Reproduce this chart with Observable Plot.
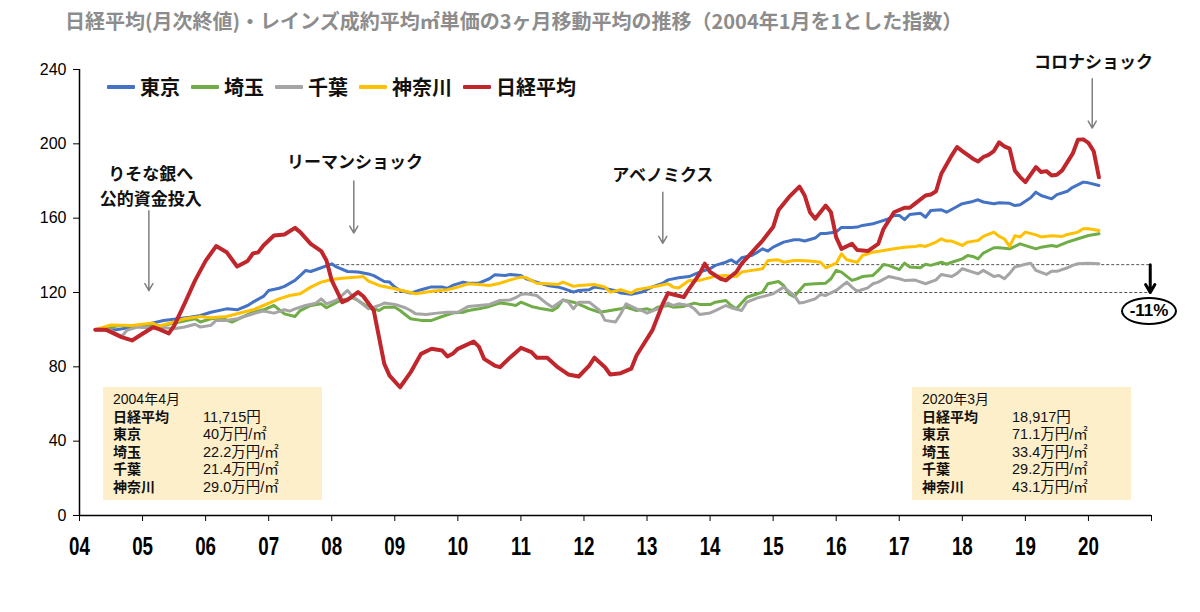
<!DOCTYPE html>
<html>
<head>
<meta charset="utf-8">
<script src="https://cdn.jsdelivr.net/npm/d3@7"></script>
<script src="https://cdn.jsdelivr.net/npm/@observablehq/plot@0.6"></script>
<style>
  html, body { margin: 0; padding: 0; background: #fff; overflow: hidden; }
  #wrap { position: relative; width: 1200px; height: 612px; font-family: "Noto Sans CJK JP", "Liberation Sans", sans-serif; }
  #title { position: absolute; left: 65px; top: 6px; font-size: 20px; font-weight: 700; color: #8c8c8c; white-space: nowrap; letter-spacing: 0px; }
  #legend { position: absolute; left: 107px; top: 72px; display: flex; align-items: center; font-size: 20px; font-weight: 700; color: #111; white-space: nowrap; }
  #legend .item { display: flex; align-items: center; margin-right: 11px; }
  #legend .sw { display: inline-block; width: 28px; height: 4px; margin-right: 5px; border-radius: 1px; }
  .box { position: absolute; top: 387px; width: 219px; height: 113px; background: #fdefca; box-sizing: border-box; padding: 4px 0 0 10px; font-family: "Liberation Sans", "Noto Sans CJK JP", sans-serif; font-size: 14px; color: #111; line-height: 17.6px; }
  .box .row { display: flex; white-space: nowrap; height: 17.6px; }
  .box .lab { width: 90px; font-weight: 700; font-family: "Liberation Sans", "Noto Sans CJK JP", sans-serif; }
  .box .val { font-weight: 400; font-size: 14.5px; }
  .box .head { font-weight: 400; }
  #pct { position: absolute; left: 1121px; top: 297px; width: 56px; height: 28px; box-sizing: border-box; border: 2px solid #000; border-radius: 50%; background: #fff; text-align: center; line-height: 24px; font-family: "Liberation Sans", sans-serif; font-weight: 700; font-size: 17px; color: #000; }
  svg { position: absolute; left: 0; top: 0; }
</style>
</head>
<body>
<div id="wrap"></div>
<script>
// ---------- DATA ----------
const chartTitle = "日経平均(月次終値)・レインズ成約平均㎡単価の3ヶ月移動平均の推移（2004年1月を1とした指数）";
const seriesNames = ["東京", "埼玉", "千葉", "神奈川", "日経平均"];
const seriesColors = ["#4472C4", "#70AD47", "#A5A5A5", "#FFC000", "#C0272D"];

const tokyoMonths = ["2004-04","2004-08","2005-01","2005-05","2005-10","2005-12","2006-02","2006-05","2006-07","2006-09","2006-10","2006-12","2007-01","2007-03","2007-04","2007-06","2007-07","2007-08","2007-09","2007-11","2008-01","2008-02","2008-04","2008-06","2008-08","2008-09","2008-11","2008-12","2009-01","2009-02","2009-04","2009-06","2009-08","2009-10","2009-11","2009-12","2010-02","2010-03","2010-05","2010-07","2010-08","2010-10","2010-11","2011-01","2011-02","2011-04","2011-06","2011-08","2011-09","2011-11","2011-12","2012-02","2012-03","2012-05","2012-07","2012-08","2012-10","2012-12","2013-02","2013-04","2013-05","2013-07","2013-09","2013-11","2014-01","2014-02","2014-04","2014-05","2014-06","2014-07","2014-09","2014-10","2014-11","2014-12","2015-01","2015-03","2015-05","2015-06","2015-07","2015-09","2015-10","2015-11","2016-01","2016-02","2016-04","2016-05","2016-06","2016-08","2016-09","2016-11","2016-12","2017-01","2017-02","2017-03","2017-05","2017-06","2017-07","2017-09","2017-10","2017-12","2018-01","2018-03","2018-04","2018-05","2018-07","2018-08","2018-10","2018-11","2018-12","2019-02","2019-03","2019-04","2019-06","2019-07","2019-09","2019-10","2019-12","2020-01","2020-03"];
const tokyoValues = [100,100,102.3,104.9,106.7,107.6,109.4,111.2,110.7,113,114.8,117.9,121.1,122.3,123.3,126.5,129.1,131.8,131.3,133.3,135.4,133.6,131.3,131,130,129.1,125.9,125.6,122.9,121.1,119.7,121.5,123,123,122.2,123.8,125.6,125,125,127.4,129.5,129.2,129.7,129.2,127.4,125.6,123.8,123,122.2,120.2,121.1,121.5,123,122.2,121,119.7,119,120.2,123,125,126.8,127.9,128.6,131,132.8,134.6,136.3,137.6,135.8,138.7,140,141.7,143.5,142.3,144.4,147.1,148.4,148.4,147.7,149.3,151.7,151.7,152.6,155,155,155.2,156.1,157,157.9,159.7,161.5,161.5,159.2,162,162.7,160.5,164.1,164.5,163.2,166.3,167.8,169,169.9,168.7,167.8,168.3,168,166.8,167.2,171,174,172.2,170.4,172.7,174.5,176.6,179.4,179,177.6];

const saitamaMonths = ["2004-04","2004-09","2005-01","2005-05","2005-08","2005-11","2005-12","2006-02","2006-04","2006-06","2006-08","2006-10","2006-12","2007-02","2007-04","2007-06","2007-07","2007-09","2007-11","2007-12","2008-02","2008-03","2008-05","2008-06","2008-08","2008-10","2008-11","2009-01","2009-02","2009-04","2009-06","2009-08","2009-10","2009-12","2010-02","2010-03","2010-05","2010-07","2010-09","2010-11","2010-12","2011-01","2011-03","2011-05","2011-07","2011-08","2011-09","2011-11","2012-01","2012-02","2012-04","2012-06","2012-08","2012-09","2012-11","2013-01","2013-02","2013-03","2013-05","2013-06","2013-08","2013-10","2013-11","2014-01","2014-02","2014-04","2014-05","2014-06","2014-08","2014-09","2014-11","2014-12","2015-02","2015-03","2015-04","2015-05","2015-06","2015-07","2015-09","2015-11","2015-12","2016-01","2016-02","2016-04","2016-05","2016-06","2016-08","2016-09","2016-10","2016-11","2017-01","2017-02","2017-03","2017-05","2017-06","2017-07","2017-09","2017-10","2017-11","2018-01","2018-02","2018-03","2018-04","2018-05","2018-07","2018-08","2018-10","2018-11","2018-12","2019-03","2019-04","2019-06","2019-07","2019-09","2019-11","2020-01","2020-03"];
const saitamaValues = [100,102.3,101.4,102.3,104.1,105.9,104.1,105.9,106.4,104.1,106.7,109.4,110.7,113,108.5,107.1,110.3,113,113.9,111.8,114.8,116,117.1,115.7,112.1,110.3,112.1,112.1,110.3,105.9,105,105,107.1,108.9,109.4,110.3,111.2,112.5,114.3,113.6,113,114.8,112.5,111.2,110.3,112.1,116,114.8,112.5,111.2,109.4,110.3,111.2,112.1,110.3,111.2,110.3,112.1,113,112.1,112.5,114.3,113.6,113.5,114.8,115.7,113,111.2,117.5,118.4,120.2,124.7,125.9,123.8,119.3,117.8,121.1,124.3,124.7,125,127.4,131.9,131,126.5,127.4,128.6,129.2,131.9,135.1,134.6,132.3,135.8,133.7,133.3,135.2,134.6,136.3,135.2,136.3,138.1,139.9,139.4,138.1,141.2,144.1,144.1,143.5,144.8,146.2,143.5,144.4,145.3,144.8,147.1,148.9,150.7,151.6];

const chibaMonths = ["2004-04","2004-07","2004-09","2004-10","2004-12","2005-02","2005-04","2005-07","2005-09","2005-11","2005-12","2006-02","2006-03","2006-05","2006-07","2006-09","2006-11","2006-12","2007-02","2007-04","2007-05","2007-06","2007-08","2007-10","2007-11","2007-12","2008-02","2008-04","2008-05","2008-06","2008-08","2008-10","2008-11","2009-01","2009-03","2009-04","2009-05","2009-07","2009-09","2009-11","2010-01","2010-03","2010-05","2010-07","2010-09","2010-11","2010-12","2011-01","2011-02","2011-04","2011-06","2011-07","2011-09","2011-10","2011-11","2011-12","2012-02","2012-04","2012-05","2012-07","2012-08","2012-09","2012-11","2012-12","2013-01","2013-03","2013-04","2013-05","2013-06","2013-07","2013-09","2013-10","2013-11","2014-01","2014-02","2014-04","2014-05","2014-07","2014-08","2014-10","2014-11","2015-01","2015-02","2015-03","2015-05","2015-06","2015-07","2015-09","2015-10","2015-11","2016-01","2016-03","2016-04","2016-05","2016-07","2016-08","2016-09","2016-11","2017-01","2017-02","2017-04","2017-06","2017-08","2017-09","2017-11","2017-12","2018-01","2018-03","2018-04","2018-05","2018-07","2018-08","2018-09","2018-10","2018-11","2019-01","2019-02","2019-03","2019-05","2019-06","2019-07","2019-09","2019-10","2019-11","2020-01","2020-03"];
const chibaValues = [100,99.5,96.3,99.6,101.4,101,101.4,100.5,101.4,102.9,101.4,102.3,105,105,105.9,107.6,109.4,110,108.9,110.7,110,111.2,113,114.3,116.6,113.9,116,121.1,117.9,115.7,111.2,113,114.3,113.6,111.8,110.3,108.5,108.2,108.9,109.4,109.4,112.5,113,113.6,115.7,116,117.2,118.9,119.3,118.4,113.9,112.1,116,114.8,111.2,114.8,114.8,110.3,105,104.1,108.5,113.9,111.2,110.3,108.9,111.2,112.5,114.3,113,113.9,113,111.2,108.2,109,110.3,113,111.8,110.3,114.8,117.1,117.8,119.3,121.1,122.9,118.4,114.3,114.8,116.6,118.9,118.4,121.1,125.6,122.9,120.7,122.5,124.7,125.6,128.6,127.4,126.5,126.7,124.7,126.8,129.7,128.6,130.3,132.8,131,130.1,131.9,128.6,129.2,127.4,130.3,133.7,135.2,135.8,131.9,129.7,131.4,131.4,133.3,134.6,135.5,135.8,135.5];

const kanagawaMonths = ["2004-04","2004-07","2004-11","2005-03","2005-04","2005-07","2005-09","2005-12","2006-02","2006-05","2006-07","2006-10","2006-12","2007-03","2007-05","2007-07","2007-09","2007-11","2008-01","2008-03","2008-06","2008-07","2008-08","2008-10","2009-01","2009-03","2009-05","2009-08","2009-11","2010-01","2010-03","2010-05","2010-07","2010-09","2010-11","2011-01","2011-02","2011-04","2011-06","2011-08","2011-09","2011-11","2011-12","2012-03","2012-05","2012-06","2012-08","2012-10","2012-11","2013-01","2013-03","2013-05","2013-06","2013-07","2013-09","2013-11","2014-01","2014-02","2014-04","2014-06","2014-07","2014-09","2014-11","2014-12","2015-02","2015-03","2015-05","2015-06","2015-08","2015-10","2015-11","2016-01","2016-02","2016-03","2016-05","2016-06","2016-08","2016-10","2016-12","2017-02","2017-04","2017-05","2017-06","2017-08","2017-09","2017-10","2017-11","2018-01","2018-02","2018-04","2018-05","2018-07","2018-08","2018-09","2018-10","2018-11","2018-12","2019-01","2019-03","2019-04","2019-06","2019-08","2019-09","2019-11","2019-12","2020-01","2020-03"];
const kanagawaValues = [100,102.5,102.3,103.6,101.8,104.1,105.9,107.1,106.4,107.1,108.6,110.7,113,116.6,118.4,119.3,122.9,125.6,127,127.7,128.3,128.6,126.1,123.8,122,120.7,119.3,120.7,121.5,122.9,124.7,124.3,123.8,125,126.8,128.3,128,125,124.7,124.3,125.6,123.3,123.8,124.3,122.9,120.2,121.5,119.7,121.5,122.5,123.5,124.7,122.9,122.4,126.5,126.5,128,128.8,129.2,128.6,131,131.9,132.8,137.2,137.6,136.3,137.2,137.2,136.9,136.3,133.3,135.8,140.8,137.6,136.3,139.9,141.7,142.6,143.5,144.4,144.8,145.3,144.8,147.1,148.9,147.7,147.7,145.3,147.1,148,150.2,152.5,150.2,148.9,144.8,150.5,149.9,152.5,151,149.9,150.5,150.2,151.2,152.5,154.3,154.3,153.4];

const nikkeiMonths = ["2004-04","2004-06","2004-09","2004-11","2005-01","2005-03","2005-04","2005-06","2005-07","2005-09","2005-11","2006-01","2006-03","2006-05","2006-07","2006-09","2006-10","2006-11","2006-12","2007-02","2007-04","2007-06","2007-07","2007-09","2007-11","2007-12","2008-01","2008-03","2008-04","2008-06","2008-07","2008-09","2008-11","2008-12","2009-02","2009-04","2009-06","2009-08","2009-10","2009-11","2009-12","2010-01","2010-04","2010-05","2010-06","2010-08","2010-09","2010-11","2011-01","2011-03","2011-04","2011-06","2011-08","2011-10","2011-12","2012-02","2012-03","2012-05","2012-06","2012-08","2012-10","2012-11","2013-02","2013-04","2013-05","2013-06","2013-08","2013-09","2013-11","2013-12","2014-01","2014-03","2014-04","2014-06","2014-07","2014-09","2014-11","2015-01","2015-02","2015-04","2015-06","2015-07","2015-08","2015-09","2015-11","2015-12","2016-01","2016-02","2016-04","2016-05","2016-07","2016-09","2016-10","2016-12","2017-02","2017-03","2017-04","2017-06","2017-07","2017-08","2017-09","2017-11","2017-12","2018-01","2018-03","2018-04","2018-05","2018-06","2018-07","2018-08","2018-09","2018-10","2018-11","2018-12","2019-01","2019-03","2019-04","2019-05","2019-06","2019-07","2019-08","2019-10","2019-11","2019-12","2020-01","2020-02","2020-03"];
const nikkeiValues = [100,100,96,94.2,97.8,101.3,100.4,98,102,114,126.5,137,145,141.7,134,137,141,141.6,145.3,150.7,151.2,154.8,152.5,146.2,142.3,137.2,126.5,114.8,116,120.2,118,110.3,81.6,75.3,69,77,87,89.7,88.8,85.6,87,89.7,93.6,90.9,84.3,80.7,79.8,85.2,90.2,87.9,84.9,84.9,79.8,75.9,74.8,80.7,84.9,79.8,75.9,76.6,79,86.1,99.6,113.9,119.7,118.9,117.5,122,130,135.5,131,127.4,126.5,131,135.5,141.7,148,155.2,164.2,171.3,177,172.2,163.2,159.7,166.8,163.2,149.7,143.5,146.2,142.9,142.3,146.2,154.2,163.2,165.6,165.6,167.8,172.2,172.7,174.5,183.9,193.8,198.3,196.1,192,190.5,192.9,194.1,196.1,200.8,198.6,197.4,185.7,182.1,179.4,187.5,184.8,185.3,183,183.4,185.7,194.7,202.2,202.4,200.5,196,182];

const yTickValues = [0, 40, 80, 120, 160, 200, 240];
const xTickYears = [2004,2005,2006,2007,2008,2009,2010,2011,2012,2013,2014,2015,2016,2017,2018,2019,2020,2021];
const xTickLabels = ["04","05","06","07","08","09","10","11","12","13","14","15","16","17","18","19","20",""];

const refLevels = [135, 120];          // dashed reference levels
const refStartMonths = ["2008-01", "2009-01"];
const changeLabel = "-11%";

const eventLabels = ["りそな銀へ\n公的資金投入", "リーマンショック", "アベノミクス", "コロナショック"];

const boxLeftTitle = "2004年4月";
const boxRightTitle = "2020年3月";
const boxLabels = ["日経平均", "東京", "埼玉", "千葉", "神奈川"];
const boxLeftValues = ["11,715円", "40万円/㎡", "22.2万円/㎡", "21.4万円/㎡", "29.0万円/㎡"];
const boxRightValues = ["18,917円", "71.1万円/㎡", "33.4万円/㎡", "29.2万円/㎡", "43.1万円/㎡"];

// ---------- BUILD ----------
const toYear = s => { const [y, m] = s.split("-").map(Number); return y + (m - 1) / 12; };
const monthsList = [tokyoMonths, saitamaMonths, chibaMonths, kanagawaMonths, nikkeiMonths];
const valuesList = [tokyoValues, saitamaValues, chibaValues, kanagawaValues, nikkeiValues];
const widths = [3, 3, 3, 3, 4];
const series = seriesNames.map((name, i) => ({
  name, color: seriesColors[i], width: widths[i],
  rows: monthsList[i].map((m, j) => ({t: toYear(m), v: valuesList[i][j]}))
}));

const xLabelMap = new Map(xTickYears.map((y, i) => [y, xTickLabels[i]]));

// annotation layout (positions in data units)
const events = [
  {text: eventLabels[0], x: 2005.13, y: 178, ax: 2005.1, ay1: 164, ay2: 121},
  {text: eventLabels[1], x: 2008.37, y: 191, ax: 2008.35, ay1: 180, ay2: 152},
  {text: eventLabels[2], x: 2013.25, y: 184, ax: 2013.25, ay1: 174, ay2: 146.5},
  {text: eventLabels[3], x: 2020.08, y: 245, ax: 2020.06, ay1: 235, ay2: 208.5}
];
const refs = refLevels.map((v, i) => ({v, x1: toYear(refStartMonths[i]), x2: 2021}));

const chart = Plot.plot({
  width: 1200,
  height: 612,
  marginLeft: 79,
  marginRight: 49,
  marginTop: 69,
  marginBottom: 97,
  x: {type: "linear", domain: [2004, 2021]},
  y: {type: "linear", domain: [0, 240]},
  style: {background: "transparent", color: "#000", overflow: "visible"},
  marks: [
    Plot.axisY({ticks: yTickValues, tickSize: 6, tickPadding: 7, fontSize: 16, fontFamily: "Liberation Sans, Arial, sans-serif", label: null, stroke: "#000"}),
    Plot.axisX({ticks: xTickYears, tickFormat: d => xLabelMap.get(d) ?? "", tickSize: 6, tickPadding: 16, fontSize: 25, fontWeight: "bold", fontFamily: "Liberation Sans, Arial, sans-serif", label: null, stroke: "#000"}),
    Plot.ruleX([2004], {y1: 0, y2: 240, stroke: "#000", strokeWidth: 1.5}),
    Plot.ruleY([0], {x1: 2004, x2: 2021, stroke: "#000", strokeWidth: 1.5}),
    Plot.ruleY(refs, {y: "v", x1: "x1", x2: "x2", stroke: "#555", strokeWidth: 1, strokeDasharray: "3,2"}),
    ...series.map(s => Plot.line(s.rows, {x: "t", y: "v", stroke: s.color, strokeWidth: s.width, strokeLinejoin: "round", strokeLinecap: "round", curve: "linear"})),
    Plot.arrow(events, {x1: "ax", x2: "ax", y1: "ay1", y2: "ay2", stroke: "#7f7f7f", strokeWidth: 1.5, headLength: 8}),
    Plot.text(events, {x: "x", y: "y", text: "text", fontSize: 17, fontWeight: "bold", fill: "#111", lineHeight: 1.45, fontFamily: "Noto Sans CJK JP, sans-serif"}),
    Plot.arrow([{x: 2020.98, y1: refLevels[0], y2: refLevels[1]}], {x1: "x", x2: "x", y1: "y1", y2: "y2", stroke: "#000", strokeWidth: 3, headLength: 10})
  ]
});

// condense the x-axis year labels horizontally (narrow bold face as in the reference)
chart.querySelectorAll('g[aria-label="x-axis tick label"] text').forEach(t => {
  const tr = t.getAttribute("transform") || "";
  t.setAttribute("transform", `${tr} scale(0.75,1)`);
});

const wrap = document.getElementById("wrap");
wrap.appendChild(chart);

// title
const title = document.createElement("div");
title.id = "title";
title.textContent = chartTitle;
wrap.appendChild(title);

// legend
const legend = document.createElement("div");
legend.id = "legend";
seriesNames.forEach((n, i) => {
  const it = document.createElement("div");
  it.className = "item";
  const sw = document.createElement("span");
  sw.className = "sw";
  sw.style.background = seriesColors[i];
  const tx = document.createElement("span");
  tx.textContent = n;
  it.appendChild(sw); it.appendChild(tx);
  legend.appendChild(it);
});
wrap.appendChild(legend);

// info boxes
function makeBox(left, head, values) {
  const b = document.createElement("div");
  b.className = "box";
  b.style.left = left + "px";
  const h = document.createElement("div");
  h.className = "row head";
  h.textContent = head;
  b.appendChild(h);
  boxLabels.forEach((l, i) => {
    const r = document.createElement("div");
    r.className = "row";
    const a = document.createElement("span"); a.className = "lab"; a.textContent = l;
    const v = document.createElement("span"); v.className = "val"; v.textContent = values[i];
    r.appendChild(a); r.appendChild(v);
    b.appendChild(r);
  });
  wrap.appendChild(b);
}
makeBox(103, boxLeftTitle, boxLeftValues);
makeBox(912, boxRightTitle, boxRightValues);

// -11% ellipse
const pct = document.createElement("div");
pct.id = "pct";
pct.textContent = changeLabel;
wrap.appendChild(pct);
</script>
</body>
</html>
